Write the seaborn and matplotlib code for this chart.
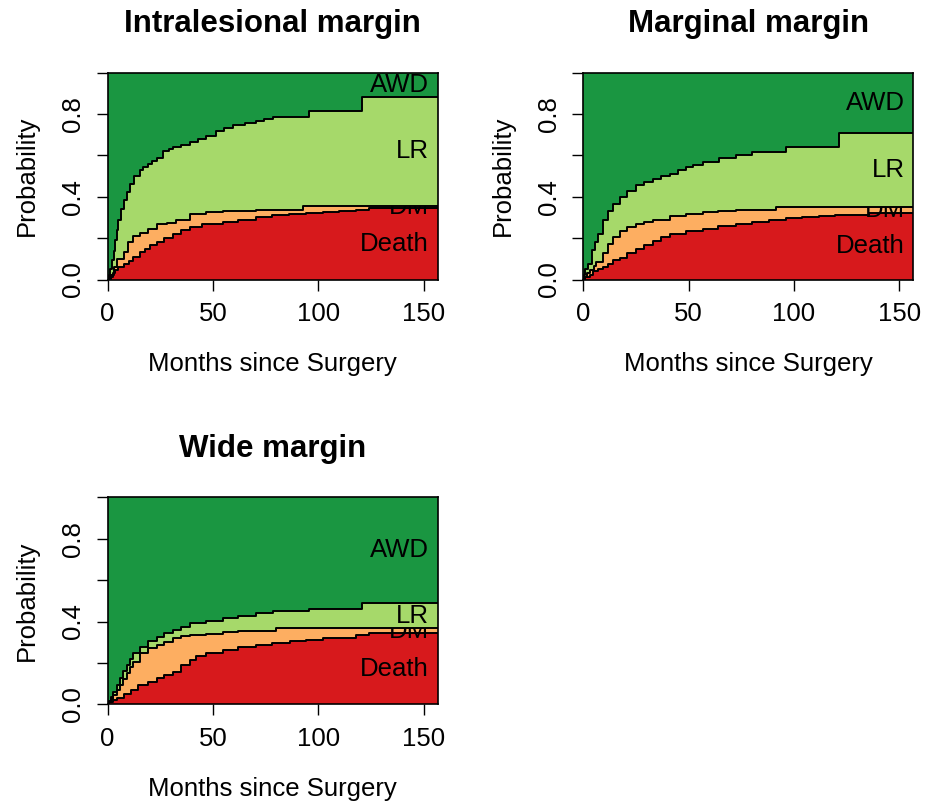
import numpy as np
import seaborn as sns
import matplotlib
matplotlib.use("Agg")
import matplotlib.pyplot as plt

# follow-up end (months) and state colours
max_time = 156.5
state_names = ["Death", "DM", "LR", "AWD"]
state_colors = ["#D7191C", "#FDAE61", "#A6D96A", "#1A9641"]

# Intralesional margin: stacked cumulative probabilities (step functions)
intra_death_t = [0, 1.3, 2.5, 3.6, 5, 7.6, 10, 12.3, 15.4, 18, 20, 23.3, 27, 31.2, 35, 39, 45,
                 54.8, 62, 70.5, 78, 86, 94, 102, 110, 118, 124]
intra_death_p = [0, 0.01, 0.03, 0.048, 0.06, 0.074, 0.09, 0.11, 0.134, 0.15, 0.165, 0.182, 0.2,
                 0.222, 0.238, 0.254, 0.268, 0.279, 0.29, 0.303, 0.31, 0.319, 0.323, 0.327, 0.331,
                 0.335, 0.348]
intra_dm_t = [0, 1.5, 3, 4.4, 7.6, 9.9, 12.3, 15.4, 19.4, 23.3, 28, 32.7, 39, 46.9, 54.8, 70.5, 92.6]
intra_dm_p = [0, 0.02, 0.06, 0.097, 0.134, 0.182, 0.209, 0.225, 0.246, 0.266, 0.275, 0.287, 0.316,
              0.324, 0.33, 0.338, 0.356]
intra_lr_t = [0, 0.5, 1, 2, 3, 3.6, 4.5, 5.2, 6.5, 7.6, 9, 10.7, 12.5, 15.4, 17, 19.4, 21, 23.3,
              26.4, 29, 31.2, 35, 39, 43, 46.9, 51.6, 55, 59.5, 65, 70.5, 74, 78.4, 95.7, 120.9]
intra_lr_p = [0, 0.02, 0.05, 0.093, 0.14, 0.19, 0.24, 0.287, 0.34, 0.383, 0.425, 0.464, 0.5, 0.528,
              0.545, 0.56, 0.572, 0.585, 0.62, 0.63, 0.638, 0.65, 0.665, 0.68, 0.692, 0.718, 0.73,
              0.746, 0.755, 0.766, 0.775, 0.786, 0.815, 0.882]

# Marginal margin
marg_death_t = [0, 0.8, 3.2, 4.7, 7, 9.5, 12, 14.2, 17.3, 21, 25.2, 29, 33.1, 37, 41, 48.8, 56.7,
                64, 72.5, 80, 88.2, 96, 104, 112, 119.7, 135.5]
marg_death_p = [0, 0.01, 0.02, 0.042, 0.052, 0.061, 0.077, 0.093, 0.105, 0.128, 0.15, 0.168, 0.187,
                0.205, 0.222, 0.234, 0.246, 0.258, 0.27, 0.28, 0.29, 0.295, 0.3, 0.305, 0.31, 0.322]
marg_dm_t = [0, 0.8, 2, 3.2, 5, 6.3, 9.5, 12, 14.2, 17.3, 21, 25.2, 29, 33.1, 41, 48.8, 56.7, 64,
             72.5, 91.4]
marg_dm_p = [0, 0.01, 0.03, 0.045, 0.065, 0.085, 0.126, 0.17, 0.206, 0.235, 0.255, 0.27, 0.28, 0.29,
             0.308, 0.316, 0.324, 0.33, 0.335, 0.351]
marg_lr_t = [0, 0.3, 1, 2.4, 4, 5.5, 7, 9.5, 12, 14.2, 17.3, 21, 25.2, 29, 33.1, 37, 41, 45, 48.8,
             52, 56.7, 64.5, 72.5, 80, 96, 121.3]
marg_lr_p = [0, 0.02, 0.05, 0.077, 0.142, 0.18, 0.222, 0.287, 0.33, 0.367, 0.4, 0.43, 0.456, 0.472,
             0.488, 0.5, 0.512, 0.53, 0.544, 0.555, 0.568, 0.585, 0.6, 0.617, 0.641, 0.709]

# Wide margin
wide_death_t = [0, 0.5, 2.5, 4.4, 7.6, 11, 14.6, 19, 23.3, 27, 31.2, 35, 39, 42, 46.9, 54.8, 62,
                70.5, 78, 86.3, 94, 102, 117.7, 124]
wide_death_p = [0, 0.01, 0.02, 0.029, 0.048, 0.07, 0.093, 0.11, 0.126, 0.14, 0.158, 0.19, 0.214,
                0.232, 0.246, 0.262, 0.275, 0.287, 0.297, 0.306, 0.313, 0.319, 0.335, 0.343]
wide_dm_t = [0, 0.5, 1.5, 2.8, 4.4, 6, 7.5, 9.1, 10.7, 12.3, 15.4, 19, 23.3, 27, 31.2, 35, 39, 46.9,
             54.8, 62, 70.5, 80]
wide_dm_p = [0, 0.01, 0.025, 0.045, 0.07, 0.093, 0.12, 0.15, 0.18, 0.206, 0.246, 0.27, 0.287, 0.303,
             0.319, 0.328, 0.335, 0.342, 0.348, 0.352, 0.356, 0.37]
wide_lr_t = [0, 0.5, 1.5, 2.8, 4.4, 6, 7.5, 9.1, 10.7, 12.3, 15.4, 19, 23.3, 27, 31.2, 35, 39, 46.9,
             54.8, 62, 70.5, 78.4, 95.7, 120.9]
wide_lr_p = [0, 0.015, 0.035, 0.06, 0.095, 0.126, 0.16, 0.19, 0.22, 0.246, 0.279, 0.305, 0.327,
             0.343, 0.359, 0.375, 0.391, 0.403, 0.415, 0.428, 0.44, 0.451, 0.46, 0.488]

panels = [
    ("Intralesional margin", [(intra_death_t, intra_death_p), (intra_dm_t, intra_dm_p), (intra_lr_t, intra_lr_p)]),
    ("Marginal margin", [(marg_death_t, marg_death_p), (marg_dm_t, marg_dm_p), (marg_lr_t, marg_lr_p)]),
    ("Wide margin", [(wide_death_t, wide_death_p), (wide_dm_t, wide_dm_p), (wide_lr_t, wide_lr_p)]),
]

sns.set_style("ticks")
plt.rcParams['font.family'] = ['Liberation Sans', 'DejaVu Sans']
plt.rcParams.update({'text.color': 'black', 'axes.labelcolor': 'black',
                     'xtick.color': 'black', 'ytick.color': 'black'})
fs = 18.5

fig = plt.figure(figsize=(9.27, 8.01), dpi=100)
axes_pos = [[0.116, 0.651, 0.356, 0.2584],
            [0.629, 0.651, 0.356, 0.2584],
            [0.116, 0.1207, 0.356, 0.2584]]


def step_eval(t, p, grid):
    # value of a right-continuous step function on a grid
    idx = np.searchsorted(np.asarray(t), grid, side='right') - 1
    return np.asarray(p)[idx]


for pos, (title, curves) in zip(axes_pos, panels):
    ax = fig.add_axes(pos)
    grid = np.unique(np.concatenate([c[0] for c in curves] + [[max_time]]))
    levels = [np.zeros_like(grid)] + [step_eval(t, p, grid) for t, p in curves] + [np.ones_like(grid)]
    ends = [lv[-1] for lv in levels]

    for k in range(4):
        ax.fill_between(grid, levels[k], levels[k + 1], step='post',
                        color=state_colors[k], lw=0, zorder=1 + k)
        mid = (ends[k] + ends[k + 1]) / 2
        ax.text(152.5, mid, state_names[k], ha='right', va='center',
                fontsize=fs, zorder=1.5 + k)

    for t, p in curves:
        tt = list(t) + [max_time]
        pp = list(p) + [p[-1]]
        sns.lineplot(x=tt, y=pp, drawstyle='steps-post', color='black', lw=1.4,
                     ax=ax, zorder=10, estimator=None, sort=False)

    ax.set_xlim(0, max_time)
    ax.set_ylim(0, 1)
    ax.set_xticks([0, 50, 100, 150])
    ax.set_yticks([0, 0.2, 0.4, 0.6, 0.8, 1.0])
    ax.set_yticklabels(["0.0", "", "0.4", "", "0.8", ""], rotation=90, va='center')
    ax.tick_params(axis='both', length=8, width=1, labelsize=fs, pad=8, color='black')
    for s in ax.spines.values():
        s.set_visible(True)
        s.set_linewidth(1.2)
        s.set_color('black')
        s.set_zorder(20)
    ax.set_xlabel("Months since Surgery", fontsize=fs, labelpad=19)
    ax.set_ylabel("Probability", fontsize=fs, labelpad=16)
    ax.set_title(title, fontsize=22.5, fontweight='bold', pad=29)

fig.savefig("out.png", dpi=100)
